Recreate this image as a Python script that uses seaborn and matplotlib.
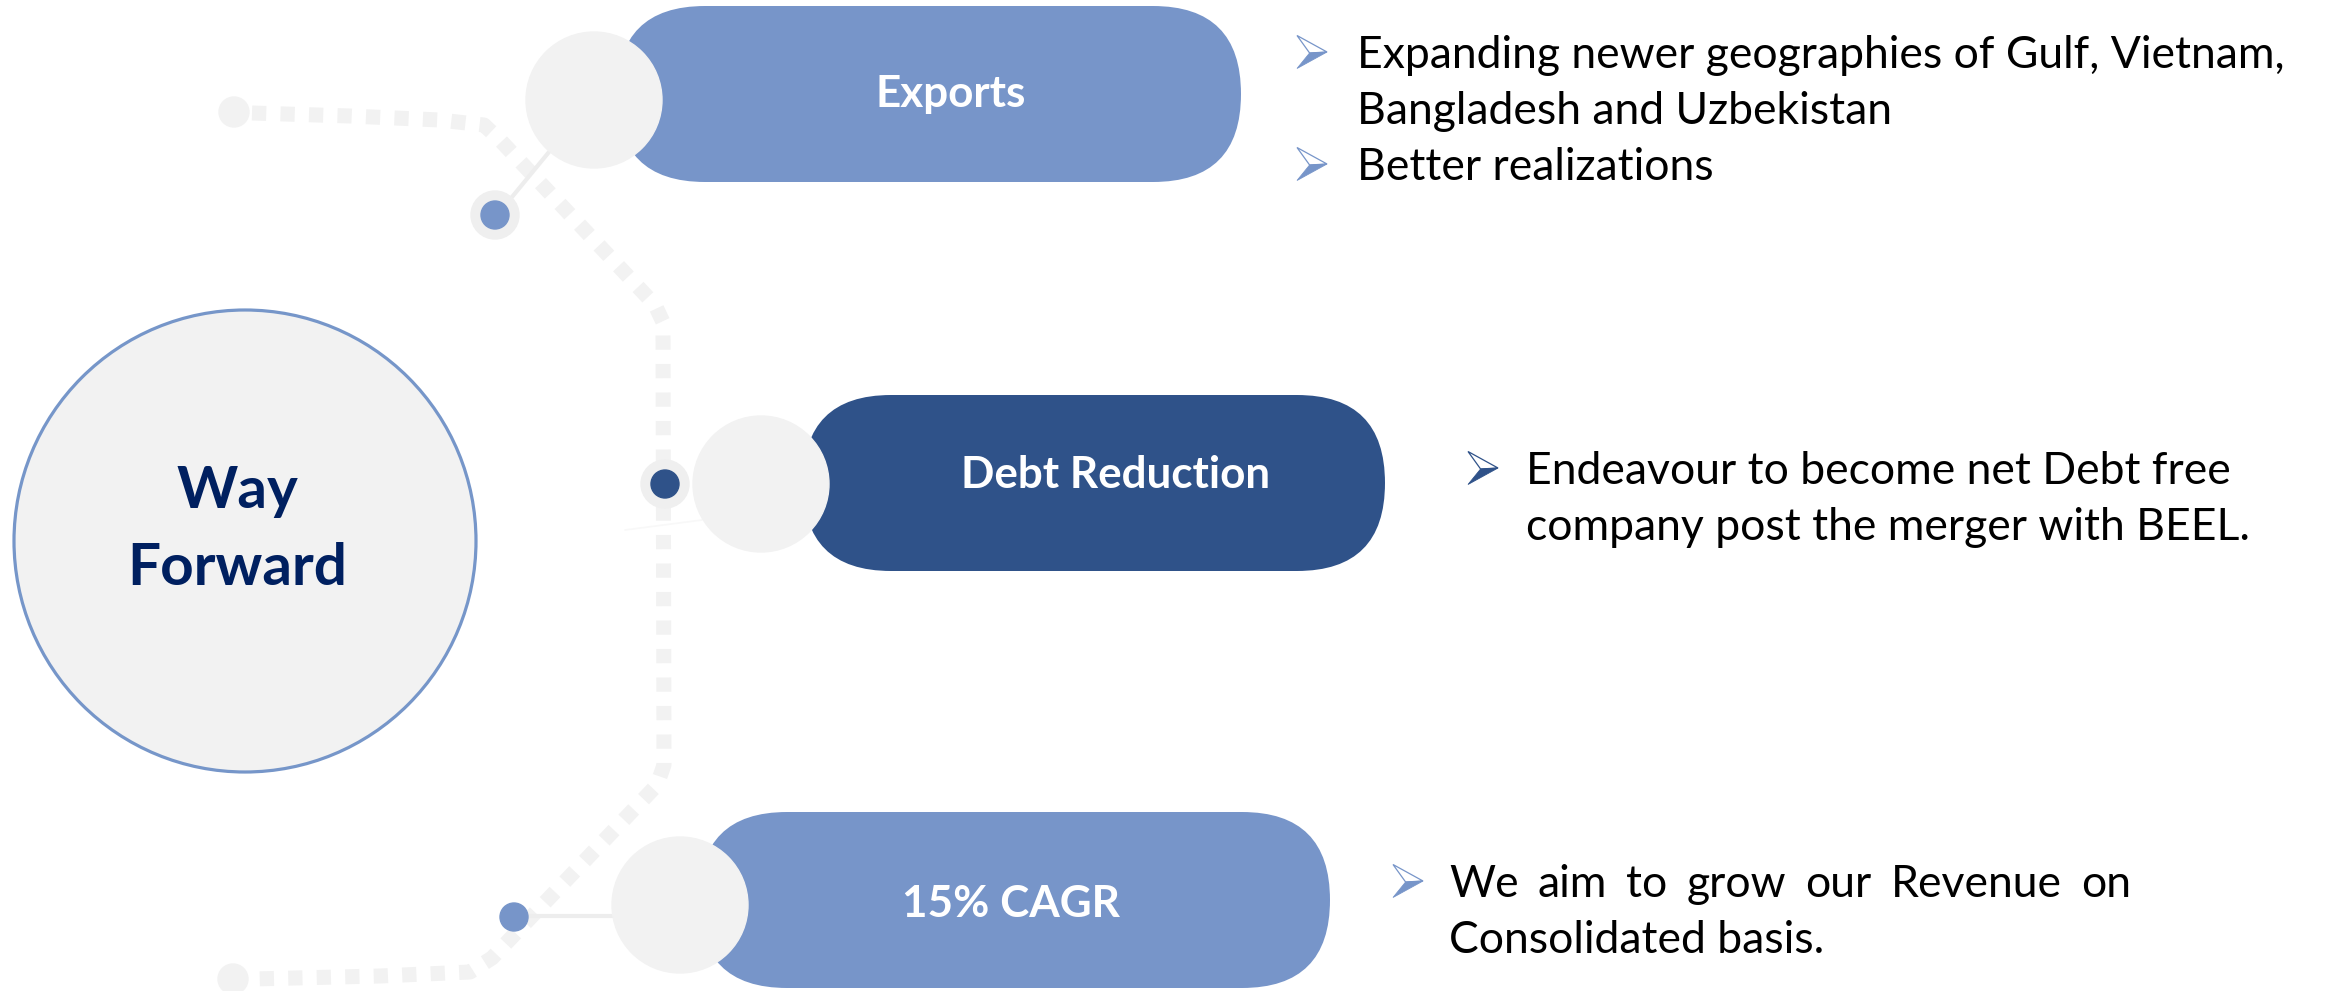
import numpy as np
import pandas as pd
import matplotlib.pyplot as plt
import seaborn as sns
from matplotlib.patches import Circle, FancyBboxPatch, Polygon

# ---- content ----
hub_lines = ["Way", "Forward"]
pill_labels = ["Exports", "Debt Reduction", "15% CAGR"]
pill_colors = ["#7795C9", "#2F5289", "#7795C9"]
arrow_colors = ["#7795C9", "#2F5289", "#7795C9"]
bullets = [
    [["Expanding newer geographies of Gulf, Vietnam,", "Bangladesh and Uzbekistan"],
     ["Better realizations"]],
    [["Endeavour to become net Debt free", "company post the merger with BEEL."]],
    [["We aim to grow our Revenue on", "Consolidated basis."]],
]
justify_first = [False, False, True]

# ---- layout (pixels of the 2330x991 canvas) ----
W, H = 2330, 991
pill_x = [(617, 1241), (803, 1385), (699, 1330)]
pill_yc = [94, 483, 900]
pill_h = 176
knob_xy = [(594, 100), (761, 484), (680, 905)]
label_xy = [(951, 107), (1116, 488), (1011, 917)]
dot_xy = [(495, 215), (665, 484), (514, 917)]
dot_ring = [True, True, False]
link_xy = [((512, 197), (549, 152)), ((625, 530), (702, 520)), ((528, 916), (616, 916))]
link_col = ["#EDEDED", "#F8F8F8", "#EDEDED"]
text_x = [1357, 1526, 1449]
arrow_x = [1297, 1468, 1393]
first_base = [68, 484, 897]
line_gap = 56
justify_right = 2131

path_x = [252, 350, 440, 484, 500, 655, 663, 664, 657, 492, 470, 380, 252]
path_y = [113, 116, 120, 125, 140, 305, 322, 765, 785, 958, 972, 976, 979]

grey = "#F2F2F2"
navy = "#002060"
body_fs = 32
label_fs = 31.7

sns.set_theme(style="white")
plt.rcParams['font.family'] = ['Lato', 'DejaVu Sans']

fig = plt.figure(figsize=(W / 100, H / 100), dpi=100)
ax = fig.add_axes([0, 0, 1, 1])
ax.set_xlim(0, W)
ax.set_ylim(H, 0)
ax.axis('off')

# dotted spine
path = pd.DataFrame({'x': path_x, 'y': path_y})
sns.lineplot(data=path, x='x', y='y', sort=False, estimator=None, ax=ax,
             color=grey, linewidth=10.8, zorder=1)
spine = ax.lines[-1]
spine.set_linestyle((0, (0.95, 0.95)))
spine.set_dash_capstyle('butt')
for ex, ey in [(234, 112), (233, 979)]:
    ax.add_patch(Circle((ex, ey), 15, color=grey, zorder=2))

# hub
ax.add_patch(Circle((245, 541), 231, facecolor=grey, edgecolor="#7696C9", lw=2.3, zorder=2))
ax.text(237, 508, hub_lines[0], ha='center', va='baseline', fontsize=42,
        fontweight='bold', color=navy, zorder=3)
ax.text(237, 585, hub_lines[1], ha='center', va='baseline', fontsize=42,
        fontweight='bold', color=navy, zorder=3)


def draw_arrow(x0, yc, color):
    w, h = 30, 33
    a = (x0, yc - h / 2)
    t = (x0 + w, yc)
    b = (x0, yc + h / 2)
    n = (x0 + w * 0.42, yc + 1)
    ax.add_patch(Polygon([a, t, n], closed=True, facecolor='white', edgecolor=color, lw=0.9, zorder=4))
    ax.add_patch(Polygon([n, t, b], closed=True, facecolor=color, edgecolor=color, lw=0.6, zorder=4))


renderer = fig.canvas.get_renderer()

for i, label in enumerate(pill_labels):
    x0, x1 = pill_x[i]
    yc = pill_yc[i]
    # connector + marker dot
    (ax0, ay0), (ax1, ay1) = link_xy[i]
    ax.plot([ax0, ax1], [ay0, ay1], color=link_col[i], lw=3 if i != 1 else 1.2, zorder=2)
    dx, dy = dot_xy[i]
    if dot_ring[i]:
        ax.add_patch(Circle((dx, dy), 24, color="#EFEFEF", zorder=3))
    ax.add_patch(Circle((dx, dy), 14, color=pill_colors[i], zorder=4))
    # pill + knob
    ax.add_patch(FancyBboxPatch((x0, yc - pill_h / 2), x1 - x0, pill_h,
                                boxstyle=f"round,pad=0,rounding_size={pill_h / 2}",
                                facecolor=pill_colors[i], edgecolor='none', zorder=3))
    kx, ky = knob_xy[i]
    ax.add_patch(Circle((kx, ky), 68, color=grey, zorder=4))
    lx, ly = label_xy[i]
    ax.text(lx, ly, label, ha='center', va='baseline', fontsize=label_fs,
            fontweight='bold', color='white', zorder=5)

    # bullet text
    base = first_base[i]
    for g, group in enumerate(bullets[i]):
        draw_arrow(arrow_x[i], base - 16, arrow_colors[i])
        for k, line in enumerate(group):
            if justify_first[i] and g == 0 and k == 0:
                words = line.split()
                objs = [ax.text(0, base, w_, fontsize=body_fs, va='baseline', color='black')
                        for w_ in words]
                widths = [o.get_window_extent(renderer).width for o in objs]
                gap = (justify_right - text_x[i] - sum(widths)) / (len(words) - 1)
                cur = text_x[i]
                for o, wd in zip(objs, widths):
                    o.set_x(cur)
                    cur += wd + gap
            else:
                ax.text(text_x[i], base, line, fontsize=body_fs, va='baseline',
                        ha='left', color='black')
            base += line_gap

fig.savefig("out.png", dpi=100, facecolor='white')
